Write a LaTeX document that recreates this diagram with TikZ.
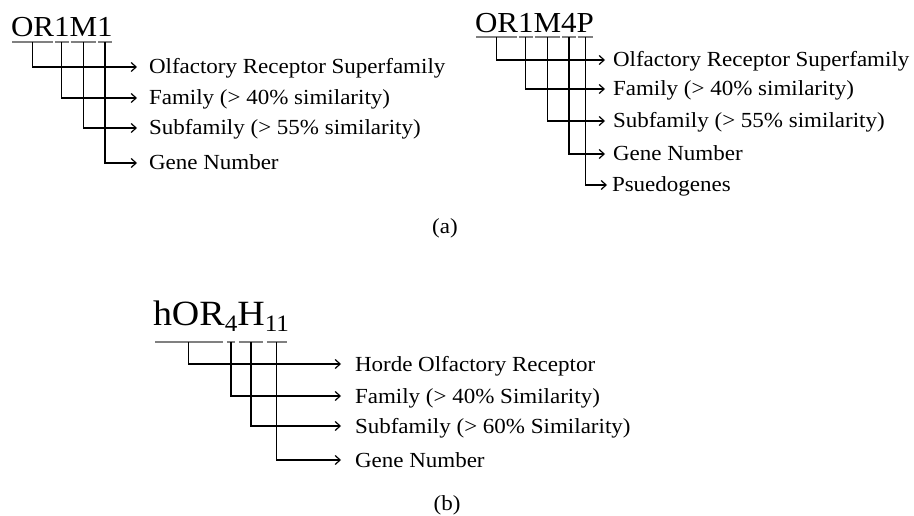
\documentclass[tikz,border=0pt]{standalone}
\usepackage{fontspec}
\setmainfont{Liberation Serif}[FakeStretch=1.07]
\usetikzlibrary{arrows.meta}

\tikzset{
  piece/.style={inner sep=0pt, outer sep=0pt, anchor=base west, text depth=0pt},
  bigcode/.style={piece, font=\fontsize{29}{32}\selectfont},
  hugecode/.style={piece, font=\fontsize{35.5}{38}\selectfont},
  subcode/.style={piece, font=\fontsize{23.5}{26}\selectfont},
  lbl/.style={anchor=west, inner xsep=#1, inner ysep=0pt, outer sep=0pt, text height=14pt, text depth=0pt, font=\fontsize{21.5}{25}\selectfont},
  under/.style={draw=gray, line width=1.3pt, shorten <=#1, shorten >=#1},
  link/.style={line width=1.2pt, -{Straight Barb[length=5pt,width=9pt]}},
  tag/.style={font=\fontsize{21.5}{25}\selectfont}
}

\begin{document}
\begin{tikzpicture}[x=1pt, y=-1pt]
\useasboundingbox (0,0) rectangle (914,516);
% (a) left code
\node[bigcode] (p1) at (11,37) {OR};
\node[bigcode] (p2) at (p1.base east) {1};
\node[bigcode] (p3) at (p2.base east) {M};
\node[bigcode] (p4) at (p3.base east) {1};
\coordinate (ula) at (0,42);
\node[lbl=12pt] (l1) at (137,67) {Olfactory Receptor Superfamily};
\node[lbl=12pt] (l2) at (137,98) {Family (> 40\% similarity)};
\node[lbl=12pt] (l3) at (137,128) {Subfamily (> 55\% similarity)};
\node[lbl=12pt] (l4) at (137,163) {Gene Number};
\foreach \n in {p1,p2,p3,p4}
  \draw[under=1pt] (\n.west |- ula) -- (\n.east |- ula);
\draw[link] (p1.south |- ula) |- (l1.west);
\draw[link] (p2.south |- ula) |- (l2.west);
\draw[link] (p3.south |- ula) |- (l3.west);
\draw[link] (p4.south |- ula) |- (l4.west);
% (a) right code
\node[bigcode] (q1) at (475,33) {OR};
\node[bigcode] (q2) at (q1.base east) {1};
\node[bigcode] (q3) at (q2.base east) {M};
\node[bigcode] (q4) at (q3.base east) {4};
\node[bigcode] (q5) at (q4.base east) {P};
\coordinate (ulr) at (0,37);
\node[lbl=8pt] (r1) at (605,60) {Olfactory Receptor Superfamily};
\node[lbl=8pt] (r2) at (605,89) {Family (> 40\% similarity)};
\node[lbl=8pt] (r3) at (605,121) {Subfamily (> 55\% similarity)};
\node[lbl=8pt] (r4) at (605,154) {Gene Number};
\node[lbl=5pt] (r5) at (607,185) {Psuedogenes};
\foreach \n in {q1,q2,q3,q4,q5}
  \draw[under=1pt] (\n.west |- ulr) -- (\n.east |- ulr);
\draw[link] (q1.south |- ulr) |- (r1.west);
\draw[link] (q2.south |- ulr) |- (r2.west);
\draw[link] (q3.south |- ulr) |- (r3.west);
\draw[link] (q4.south |- ulr) |- (r4.west);
\draw[link] (q5.south |- ulr) |- (r5.west);
\node[tag] (ta) at (445,228) {(a)};
% (b) code
\node[hugecode] (b1) at (153,325) {hOR};
\node[subcode] (b2) at ([yshift=-6pt]b1.base east) {4};
\node[hugecode] (b3) at (b1.base -| b2.base east) {H};
\node[subcode] (b4) at ([yshift=-6pt]b3.base east) {11};
\coordinate (ulb) at (0,342);
\node[lbl=14pt] (h1) at (341,364) {Horde Olfactory Receptor};
\node[lbl=14pt] (h2) at (341,396) {Family (> 40\% Similarity)};
\node[lbl=14pt] (h3) at (341,426) {Subfamily (> 60\% Similarity)};
\node[lbl=14pt] (h4) at (341,460) {Gene Number};
\foreach \n in {b1,b2,b3,b4}
  \draw[under=2pt] (\n.west |- ulb) -- (\n.east |- ulb);
\draw[link] (b1.south |- ulb) |- (h1.west);
\draw[link] (b2.south |- ulb) |- (h2.west);
\draw[link] (b3.south |- ulb) |- (h3.west);
\draw[link] (b4.south |- ulb) |- (h4.west);
\node[tag] (tb) at (447,505) {(b)};
\end{tikzpicture}
\end{document}
